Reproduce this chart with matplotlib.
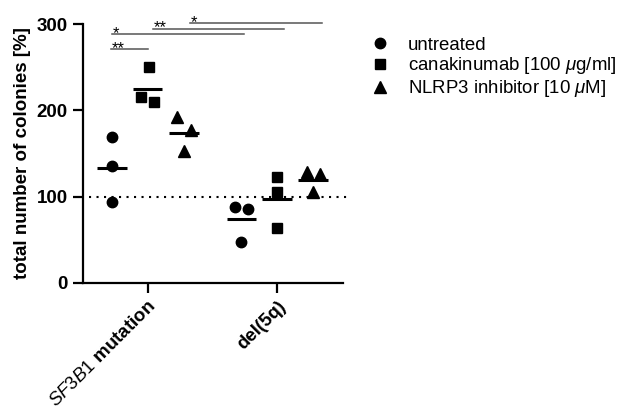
import numpy as np
import matplotlib
matplotlib.use("Agg")
import matplotlib.pyplot as plt
from matplotlib.lines import Line2D

plt.rcParams['font.family'] = ['Liberation Sans', 'DejaVu Sans']
plt.rcParams['mathtext.fontset'] = 'custom'
plt.rcParams['mathtext.it'] = 'Liberation Sans:italic'
plt.rcParams['mathtext.rm'] = 'Liberation Sans'

# data (percent of control colonies)
categories = [r'$\mathit{SF3B1}$ mutation', 'del(5q)']
treatments = ['untreated', r'canakinumab [100 $\mu$g/ml]', r'NLRP3 inhibitor [10 $\mu$M]']
markers = ['o', 's', '^']
marker_sizes = [7.5, 7, 8.5]

untreated = [[169, 135, 94], [88, 85, 47]]
canakinumab = [[250, 215, 210], [123, 105, 64]]
nlrp3 = [[192, 177, 153], [128, 126, 105]]
values = [untreated, canakinumab, nlrp3]

# horizontal spread of points inside a group (like GraphPad scatter)
spread = [[[0, 0, 0], [-0.05, 0.05, 0]],
          [[0.01, -0.05, 0.05], [0, 0, 0]],
          [[-0.055, 0.055, 0], [-0.05, 0.05, 0]]]
group_offset = [-0.275, 0.0, 0.28]

# significance brackets: x start, x end, height, label
brackets = [(-0.28, 0.0, 271.5, '**'),
            (-0.275, 0.745, 288.5, '*'),
            (0.04, 1.057, 295, '**'),
            (0.325, 1.347, 301.5, '*')]

fig = plt.figure(figsize=(6.19, 4.12), dpi=100)
ax = fig.add_axes([0.134, 0.314, 0.42, 0.627])

for t in range(3):
    for c in range(2):
        xc = c + group_offset[t]
        ys = values[t][c]
        xs = [xc + s for s in spread[t][c]]
        ax.plot(xs, ys, linestyle='none', marker=markers[t], color='black',
                markersize=marker_sizes[t], clip_on=False, zorder=3)
        m = np.mean(ys)
        ax.plot([xc - 0.115, xc + 0.115], [m, m], color='black', lw=2.2,
                solid_capstyle='butt', zorder=4)

ax.plot([-0.45, 1.57], [100, 100], color='black', lw=1.5,
        linestyle=(0, (1, 2.6)), clip_on=False, zorder=2)

for x1, x2, h, lab in brackets:
    ax.plot([x1, x2], [h, h], color='#555555', lw=1.1, clip_on=False)
    ax.text(x1 + 0.005, h - 4.5, lab, ha='left', va='baseline', fontsize=12,
            color='black')

ax.set_xlim(-0.5, 1.51)
ax.set_ylim(0, 300)
ax.set_yticks([0, 100, 200, 300])
ax.set_xticks([0, 1])
ax.set_xticklabels(categories, rotation=45, ha='right',
                   rotation_mode='anchor', fontsize=13.5, fontweight='bold')
for lab in ax.get_yticklabels():
    lab.set_fontsize(13.5)
    lab.set_fontweight('bold')
ax.set_ylabel('total number of colonies [%]', fontsize=13.5,
              fontweight='bold', labelpad=4)

for side in ['top', 'right']:
    ax.spines[side].set_visible(False)
for side in ['left', 'bottom']:
    ax.spines[side].set_linewidth(1.6)
ax.tick_params(width=1.6, length=7, pad=4)

handles = [Line2D([], [], linestyle='none', marker=markers[i], color='black',
                  markersize=marker_sizes[i]) for i in range(3)]
fig.legend(handles, treatments, loc='upper left', bbox_to_anchor=(0.569, 0.952),
           frameon=False, fontsize=13.4, handletextpad=0.9, labelspacing=0.1,
           handlelength=1.2)

fig.savefig('out.png', dpi=100)
